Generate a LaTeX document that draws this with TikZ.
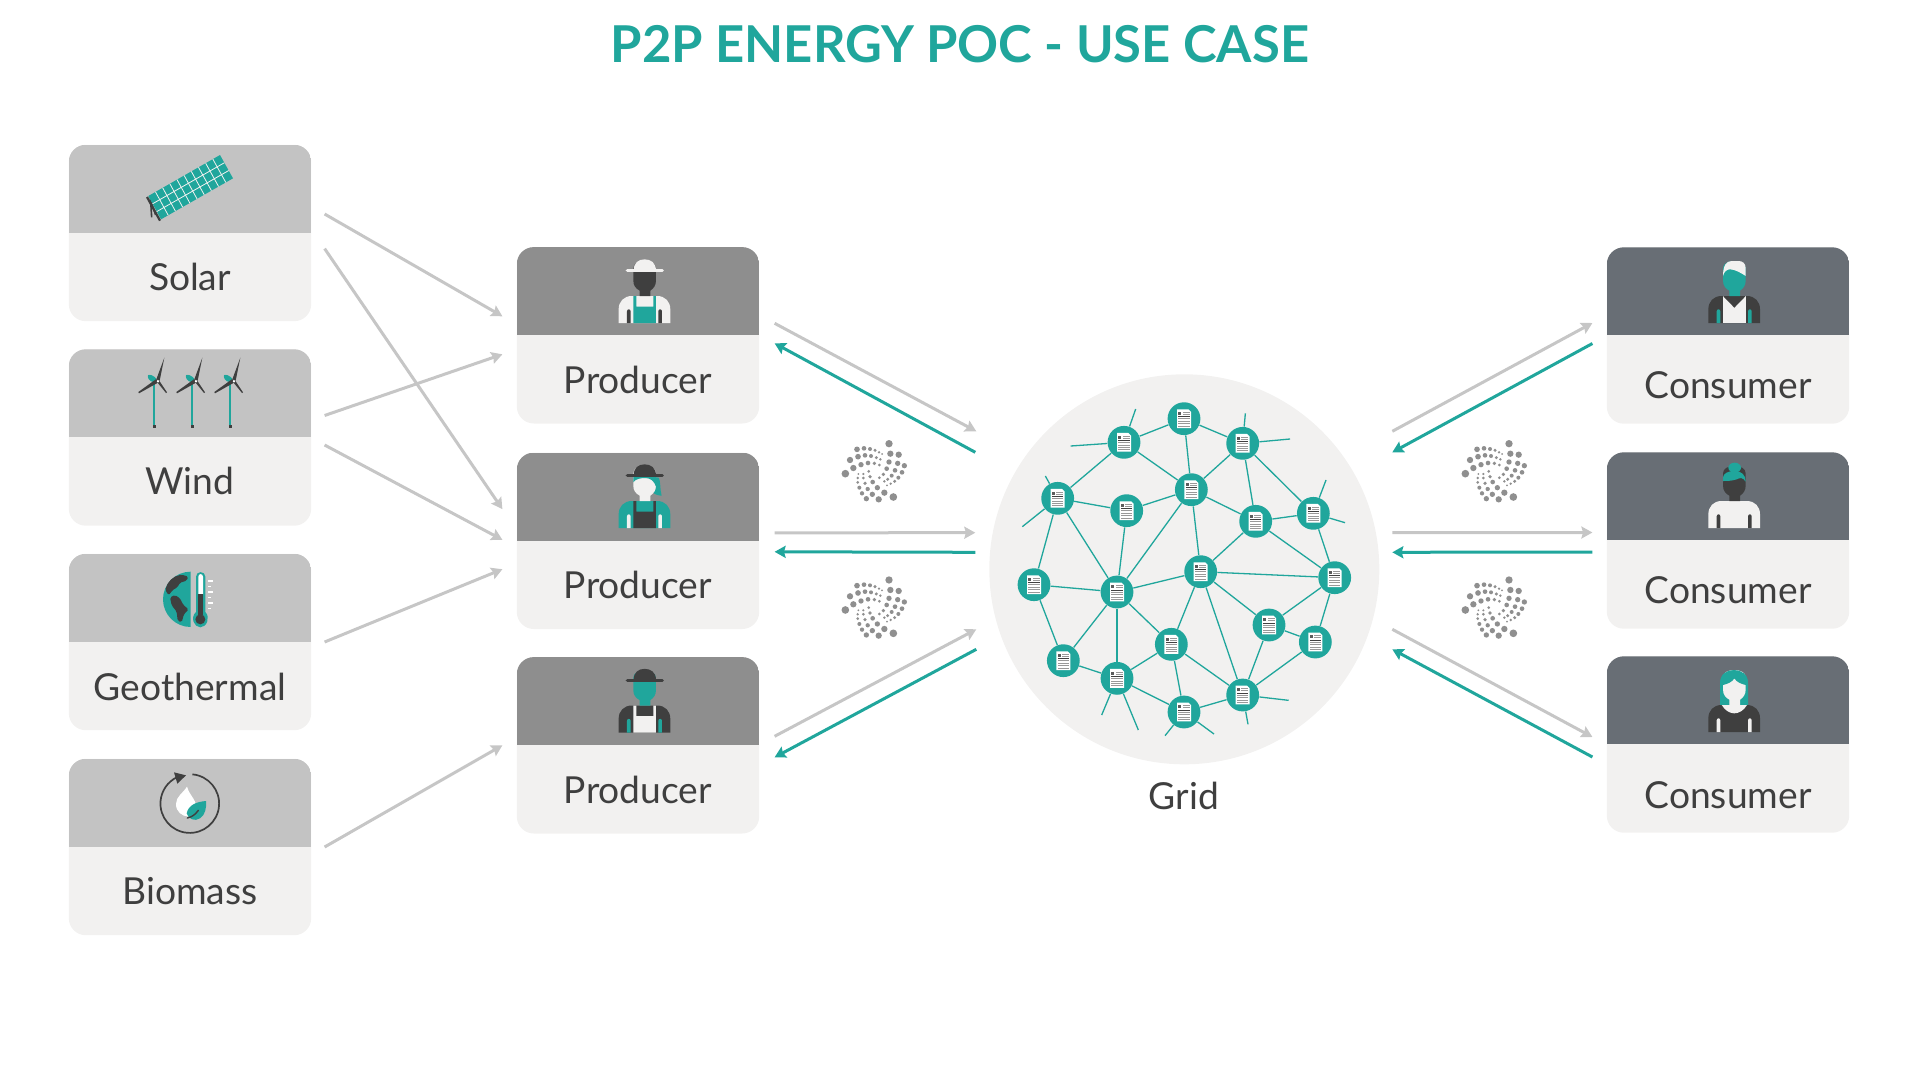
\documentclass[tikz,border=0pt]{standalone}
\usepackage{fontspec}
\setmainfont{Lato}
\usetikzlibrary{arrows.meta,calc}
\definecolor{tealc}{HTML}{20A69C}
\definecolor{darkc}{HTML}{3F3F3F}
\definecolor{pale}{HTML}{F2F1F0}
\definecolor{headA}{HTML}{C3C3C3}
\definecolor{headB}{HTML}{8E8E8E}
\definecolor{headC}{HTML}{686E75}
\definecolor{arrowc}{HTML}{C6C6C6}
\definecolor{logoc}{HTML}{8F8F8F}
\tikzset{
    icon/.style={x=.16667pt,y=-.16667pt},
    card/.style={rectangle,rounded corners=8.5pt,fill=pale,minimum width=121.2pt,minimum height=88.2pt,inner sep=0pt,
        path picture={\fill[#1,sharp corners] (path picture bounding box.north west) rectangle ([yshift=-44pt]path picture bounding box.north east);}},
    cardtext/.style={anchor=base,text=darkc,font=\fontsize{18.6}{20}\selectfont},
    vertex/.style={circle,fill=tealc,minimum size=16.4pt,inner sep=0pt,path picture={\docmark}},
    net/.style={draw=tealc,line width=.65pt},
    grayedge/.style={draw=arrowc,line width=1.5pt,-{Stealth[length=5.5pt,width=6pt,inset=.8pt]}},
    tealedge/.style={draw=tealc,line width=1.5pt,-{Stealth[length=5.5pt,width=6pt,inset=.8pt]}},
    iotamark/.pic={
        \begin{scope}[icon]
        \foreach \a/\b/\r in {327/71/11,356/104/9.5,331/101/9.5,373/137/8,353/130/8,327/126/8,366/157/7,345/151/7,320/146/7,355/173/6,335/167/6,310/163/5.5,344/184/5,323/178/5,298/173/4.5,332/191/4,313/184/4,321/196/3,
            231/88/8.5,252/85/7,270/87/6,285/91/5,297/97/4,306/102/3,210/120/9.5,234/110/8.5,255/106/7,273/108/6,289/113/5,301/118/4,196/161/11.5,220/144/9.5,243/134/8,264/129/7,283/130/5.5,298/135/4.5,
            340/231/11.5,296/238/9.5,313/218/9.5,259/236/8,277/223/8,292/203/8,246/220/6.5,263/207/6.5,278/186/7,238/203/6,255/190/5.5,270/170/5.5,233/187/4.5,250/174/4.5,266/154/4.5,233/174/4,250/162/3.5,235/162/3}
            \fill[logoc] (\a,\b) circle (\r);
        \end{scope}
    }
}
\newcommand{\docmark}{
    \begin{scope}[shift={(path picture bounding box.center)},x=1pt,y=1pt]
    \fill[white] (-3.5,4.7) -- (2.2,4.7) -- (3.5,3.4) -- (3.5,-4.7) -- (-3.5,-4.7) -- cycle;
    \fill[darkc!85] (-2.9,1.9) rectangle (-1.3,3.3);
    \fill[black!40] (-.7,2.9) rectangle (2.8,3.3);
    \fill[black!40] (-.7,1.9) rectangle (2.8,2.3);
    \fill[black!75] (-2.9,.8) rectangle (2.8,1.2);
    \fill[black!40] (-2.9,-.4) rectangle (2.8,.1);
    \fill[black!40] (-2.9,-1.6) rectangle (2.8,-1.1);
    \fill[black!40] (-2.9,-2.8) rectangle (2.8,-2.3);
    \fill[black!40] (-2.9,-4) rectangle (2.8,-3.5);
    \end{scope}
}
\newcommand{\torso}[2]{
    \fill[#1] (325,249) -- (325,208) .. controls (325,185) and (340,168) .. (365,168) -- (440,168) .. controls (465,168) and (480,185) .. (480,208) -- (480,249) -- cycle;
    \fill[#2] (350,249) -- (350,214) .. controls (350,206) and (361,206) .. (361,214) -- (361,249) -- cycle;
    \fill[#2] (444,249) -- (444,214) .. controls (444,206) and (455,206) .. (455,214) -- (455,249) -- cycle;
}
\newcommand{\headshape}[1]{
    \fill[#1] (388,168) -- (388,152) .. controls (377,146) and (369,137) .. (369,122) -- (369,85) .. controls (369,70) and (385,63) .. (403,63) .. controls (421,63) and (437,70) .. (437,85) -- (437,122) .. controls (437,137) and (429,146) .. (420,152) -- (420,168) -- cycle;
}
\newcommand{\farmhat}[1]{
    \fill[#1] (370,91) .. controls (370,68) and (385,58) .. (403,58) .. controls (421,58) and (437,68) .. (437,91) -- cycle;
    \draw[#1,line width=1.6pt,line cap=round] (351,92) -- (456,92);
}
\newcommand{\apron}[1]{
    \fill[#1] (369,249) -- (369,168) -- (378,168) -- (378,200) -- (429,200) -- (429,168) -- (437,168) -- (437,249) -- cycle;
}
\newcommand{\turbine}[1]{
    \begin{scope}[shift={#1},icon]
    \fill[tealc] (99,95) rectangle (106,224);
    \fill[darkc] (98,224) rectangle (107,233);
    \fill[tealc,rounded corners=1.2pt] (81,80) -- (88,72) -- (110,84) -- (108,97) -- (92,95) -- cycle;
    \fill[darkc] (109,88) -- (133,23) -- (119,92) -- cycle;
    \fill[darkc] (109,87) -- (55,126) -- (57,130) -- (114,98) -- cycle;
    \fill[darkc] (112,97) -- (138,129) -- (141,127) -- (117,91) -- cycle;
    \fill[white] (114,94) circle (3.5);
    \end{scope}
}
\begin{document}
\begin{tikzpicture}[x=.5pt,y=-.5pt]
\useasboundingbox (0,0) rectangle (1920,1081);

\node (title) at (960,44.5) {\color{tealc}\fontsize{25.4}{28}\selectfont\bfseries P2P ENERGY POC - USE CASE};

\node[card=headA] (solar) at (190,233) {};
\node[card=headA] (wind) at (190,437.5) {};
\node[card=headA] (geo) at (190,642) {};
\node[card=headA] (bio) at (190,847) {};
\node[card=headB] (prod1) at (638,335.3) {};
\node[card=headB] (prod2) at (638,540.8) {};
\node[card=headB] (prod3) at (638,745.3) {};
\node[card=headC] (cons1) at (1728,335.5) {};
\node[card=headC] (cons2) at (1728,540.5) {};
\node[card=headC] (cons3) at (1728,744.5) {};

\node[cardtext] (solart) at (190,290) {Solar};
\node[cardtext] (windt) at (190,494.5) {Wind};
\node[cardtext] (geot) at (190,700) {Geothermal};
\node[cardtext] (biot) at (190,904) {Biomass};
\node[cardtext] (prodt1) at (638,393) {Producer};
\node[cardtext] (prodt2) at (638,598) {Producer};
\node[cardtext] (prodt3) at (638,803) {Producer};
\node[cardtext] (const1) at (1728,398.5) {Consumer};
\node[cardtext] (const2) at (1728,603.5) {Consumer};
\node[cardtext] (const3) at (1728,808.5) {Consumer};

\node[circle,fill=pale,minimum size=195pt,inner sep=0pt] (grid) at (1184.3,569.3) {};
\node[cardtext] (gridt) at (1184,809) {Grid};

\begin{scope}[shift={(980,360)},icon]
\node[vertex] (1) at (612,176) {};
\node[vertex] (2) at (432,247) {};
\node[vertex] (3) at (788,250) {};
\node[vertex] (4) at (233,415) {};
\node[vertex] (5) at (440,452) {};
\node[vertex] (6) at (634,389) {};
\node[vertex] (7) at (827,484) {};
\node[vertex] (8) at (1000,460) {};
\node[vertex] (9) at (162,674) {};
\node[vertex] (10) at (411,696) {};
\node[vertex] (11) at (662,635) {};
\node[vertex] (12) at (1064,653) {};
\node[vertex] (13) at (867,795) {};
\node[vertex] (14) at (1006,846) {};
\node[vertex] (15) at (250,902) {};
\node[vertex] (16) at (411,955) {};
\node[vertex] (17) at (574,853) {};
\node[vertex] (18) at (788,1005) {};
\node[vertex] (19) at (612,1056) {};
\coordinate (s1) at (467,147);
\coordinate (s2) at (272,258);
\coordinate (s3) at (796,160);
\coordinate (s4) at (930,237);
\coordinate (s5) at (196,348);
\coordinate (s6) at (127,500);
\coordinate (s7) at (1038,360);
\coordinate (s8) at (1095,488);
\coordinate (s9) at (365,1065);
\coordinate (s10) at (475,1110);
\coordinate (s11) at (555,1127);
\coordinate (s12) at (702,1122);
\coordinate (s13) at (926,1021);
\coordinate (s14) at (804,1093);
\end{scope}

\draw[net] (1) -- (2);
\draw[net] (1) -- (3);
\draw[net] (1) -- (6);
\draw[net] (2) -- (6);
\draw[net] (2) -- (4);
\draw[net] (3) -- (6);
\draw[net] (3) -- (7);
\draw[net] (3) -- (8);
\draw[net] (4) -- (5);
\draw[net] (4) -- (9);
\draw[net] (4) -- (10);
\draw[net] (5) -- (6);
\draw[net] (5) -- (10);
\draw[net] (6) -- (7);
\draw[net] (6) -- (10);
\draw[net] (6) -- (11);
\draw[net] (7) -- (8);
\draw[net] (7) -- (11);
\draw[net] (7) -- (12);
\draw[net] (8) -- (12);
\draw[net] (9) -- (10);
\draw[net] (9) -- (15);
\draw[net] (10) -- (11);
\draw[net] (10) -- (15);
\draw[net] (10) -- (16);
\draw[net] (10) -- (17);
\draw[net] (11) -- (12);
\draw[net] (11) -- (13);
\draw[net] (11) -- (17);
\draw[net] (11) -- (18);
\draw[net] (12) -- (13);
\draw[net] (12) -- (14);
\draw[net] (13) -- (14);
\draw[net] (13) -- (18);
\draw[net] (14) -- (18);
\draw[net] (15) -- (16);
\draw[net] (16) -- (17);
\draw[net] (16) -- (19);
\draw[net] (17) -- (18);
\draw[net] (17) -- (19);
\draw[net] (18) -- (19);
\draw[net] (2) -- (s1);
\draw[net] (2) -- (s2);
\draw[net] (3) -- (s3);
\draw[net] (3) -- (s4);
\draw[net] (4) -- (s5);
\draw[net] (4) -- (s6);
\draw[net] (8) -- (s7);
\draw[net] (8) -- (s8);
\draw[net] (16) -- (s9);
\draw[net] (16) -- (s10);
\draw[net] (19) -- (s11);
\draw[net] (19) -- (s12);
\draw[net] (18) -- (s13);
\draw[net] (18) -- (s14);

\draw[grayedge] ([shift={(13,-19)}]solar.east) -- ([shift={(-14,-19)}]prod1.west);
\draw[grayedge] ([shift={(13,15.6)}]solar.east) -- ([shift={(-14,-31.6)}]prod2.west);
\draw[grayedge] ([shift={(13,-22)}]wind.east) -- ([shift={(-14,19)}]prod1.west);
\draw[grayedge] ([shift={(13,7.5)}]wind.east) -- ([shift={(-14,-1)}]prod2.west);
\draw[grayedge] ([shift={(13,0)}]geo.east) -- ([shift={(-14,28.4)}]prod2.west);
\draw[grayedge] ([shift={(13,0)}]bio.east) -- ([shift={(-14,0)}]prod3.west);

\draw[grayedge] ([shift={(15,-12)}]prod1.east) -- ([shift={(-208,-138)}]grid.center);
\draw[tealedge] ([shift={(-209,-117)}]grid.center) -- ([shift={(15,8)}]prod1.east);
\draw[grayedge] ([shift={(15,-8)}]prod2.east) -- ([shift={(-209,-36.6)}]grid.center);
\draw[tealedge] ([shift={(-209,-17)}]grid.center) -- ([shift={(15,11)}]prod2.east);
\draw[grayedge] ([shift={(15,-9)}]prod3.east) -- ([shift={(-208,60)}]grid.center);
\draw[tealedge] ([shift={(-208,80)}]grid.center) -- ([shift={(15,12)}]prod3.east);

\draw[grayedge] ([shift={(208,-138)}]grid.center) -- ([shift={(-14,-12.5)}]cons1.west);
\draw[tealedge] ([shift={(-14,8)}]cons1.west) -- ([shift={(208,-117)}]grid.center);
\draw[grayedge] ([shift={(208,-36.6)}]grid.center) -- ([shift={(-14,-8)}]cons2.west);
\draw[tealedge] ([shift={(-14,11.5)}]cons2.west) -- ([shift={(208,-17)}]grid.center);
\draw[grayedge] ([shift={(208,60)}]grid.center) -- ([shift={(-14,-7.5)}]cons3.west);
\draw[tealedge] ([shift={(-14,12.5)}]cons3.west) -- ([shift={(208,80)}]grid.center);

\pic (iota1) at (780,420) {iotamark};
\pic (iota2) at (780,556.3) {iotamark};
\pic (iota3) at (1400,420) {iotamark};
\pic (iota4) at (1400,556.3) {iotamark};

\begin{scope}[shift={(40,120)},icon]
\coordinate (pa) at (325,228);
\coordinate (pb) at (540,105);
\coordinate (pc) at (579,175);
\coordinate (pd) at (363,298);
\draw[darkc,line width=.8pt] (335,292) -- (332,243) -- (347,285);
\fill[tealc] (pa) -- (pb) -- (pc) -- (pd) -- cycle;
\foreach \t in {.1,.2,...,.95}
    \draw[pale,line width=.4pt] ($(pa)!\t!(pb)$) -- ($(pd)!\t!(pc)$);
\foreach \t in {.333,.667}
    \draw[pale,line width=.4pt] ($(pa)!\t!(pd)$) -- ($(pb)!\t!(pc)$);
\draw[darkc,line width=1.1pt] (321,231) -- (360,302);
\end{scope}

\turbine{(120,350)}
\turbine{(158,350)}
\turbine{(196,350)}

\begin{scope}[shift={(40,530)},icon]
\fill[tealc] (452,125) arc (-90:-270:83) -- cycle;
\fill[darkc,rounded corners=.8pt] (376,180) .. controls (382,155) and (400,138) .. (425,134) -- (445,140) -- (440,152) -- (420,158) -- (412,172) -- (398,180) -- (386,196) -- cycle;
\fill[darkc,rounded corners=.8pt] (390,202) -- (405,195) -- (420,205) -- (430,225) -- (446,238) -- (432,252) -- (425,277) -- (413,272) -- (410,245) -- (395,226) -- cycle;
\fill[tealc] (468,140) .. controls (468,122) and (496,122) .. (496,140) -- (496,246) .. controls (512,262) and (500,292) .. (481,292) .. controls (462,292) and (450,262) .. (468,246) -- cycle;
\fill[white] (475,140) .. controls (475,130) and (489,130) .. (489,140) -- (489,192) -- (475,192) -- cycle;
\fill[darkc] (475,192) rectangle (489,256);
\fill[darkc] (481,268) circle (15);
\fill[white] (505,150) rectangle (519,155);
\fill[white] (505,167) rectangle (513,171);
\fill[white] (505,183) rectangle (519,188);
\fill[white] (505,200) rectangle (513,204);
\fill[white] (505,216) rectangle (519,221);
\fill[white] (505,233) rectangle (513,237);
\end{scope}

\begin{scope}[shift={(40,530)},icon]
\draw[darkc,line width=.85pt] (457,733) arc (-85:244:88);
\fill[darkc] (402,727) -- (438,736) -- (412,761) -- cycle;
\fill[white] (441,770) .. controls (428,790) and (408,800) .. (408,822) .. controls (408,845) and (425,858) .. (445,860) -- (470,830) .. controls (465,805) and (445,790) .. (441,770) -- cycle;
\fill[tealc] (498,813) .. controls (470,815) and (445,825) .. (440,850) .. controls (445,868) and (465,875) .. (480,865) .. controls (495,855) and (500,835) .. (498,813) -- cycle;
\draw[darkc,line width=.7pt,line cap=round] (442,864) .. controls (458,860) and (466,853) .. (475,841);
\end{scope}

\begin{scope}[shift={(510.3,240)},icon]
\torso{pale}{darkc}
\apron{tealc}
\headshape{darkc}
\farmhat{pale}
\end{scope}

\begin{scope}[shift={(510.3,445)},icon]
\torso{tealc}{pale}
\apron{darkc}
\fill[tealc] (430,96) -- (445,98) .. controls (452,110) and (448,130) .. (454,152) .. controls (445,152) and (432,148) .. (425,140) -- cycle;
\headshape{pale}
\fill[tealc] (369,112) .. controls (374,102) and (392,99) .. (405,99) .. controls (420,99) and (432,108) .. (437,125) -- (437,92) -- (369,92) -- cycle;
\farmhat{darkc}
\end{scope}

\begin{scope}[shift={(510.3,649.5)},icon]
\torso{darkc}{tealc}
\apron{pale}
\headshape{tealc}
\farmhat{darkc}
\end{scope}

\begin{scope}[shift={(1600,240)},icon]
\torso{darkc}{tealc}
\fill[pale] (369,168) rectangle (437,249);
\fill[darkc] (369,168) -- (437,168) -- (403,203) -- cycle;
\headshape{tealc}
\fill[pale] (369,108) .. controls (372,95) and (380,88) .. (390,88) .. controls (405,88) and (425,100) .. (437,108) -- (437,85) .. controls (437,70) and (428,63) .. (415,63) -- (395,63) .. controls (378,63) and (369,78) .. (369,108) -- cycle;
\end{scope}

\begin{scope}[shift={(1600,445)},icon]
\torso{pale}{darkc}
\headshape{darkc}
\fill[tealc] (404,68) ellipse (19 and 15);
\fill[tealc] (369,108) -- (369,98) .. controls (369,85) and (385,78) .. (403,78) .. controls (425,78) and (437,90) .. (437,110) .. controls (428,96) and (420,98) .. (410,103) .. controls (395,108) and (380,108) .. (369,108) -- cycle;
\end{scope}

\begin{scope}[shift={(1600,649)},icon]
\fill[tealc] (360,168) -- (360,105) .. controls (360,75) and (380,63) .. (402,63) .. controls (424,63) and (444,75) .. (444,105) -- (444,168) -- cycle;
\torso{darkc}{pale}
\headshape{pale}
\fill[pale] (365,168) .. controls (375,185) and (390,193) .. (403,193) .. controls (416,193) and (431,185) .. (441,168) -- cycle;
\fill[tealc] (360,105) .. controls (360,75) and (380,63) .. (402,63) .. controls (424,63) and (444,75) .. (444,105) -- (437,108) .. controls (425,105) and (410,100) .. (403,88) .. controls (396,100) and (381,105) .. (369,108) -- cycle;
\end{scope}
\end{tikzpicture}
\end{document}
